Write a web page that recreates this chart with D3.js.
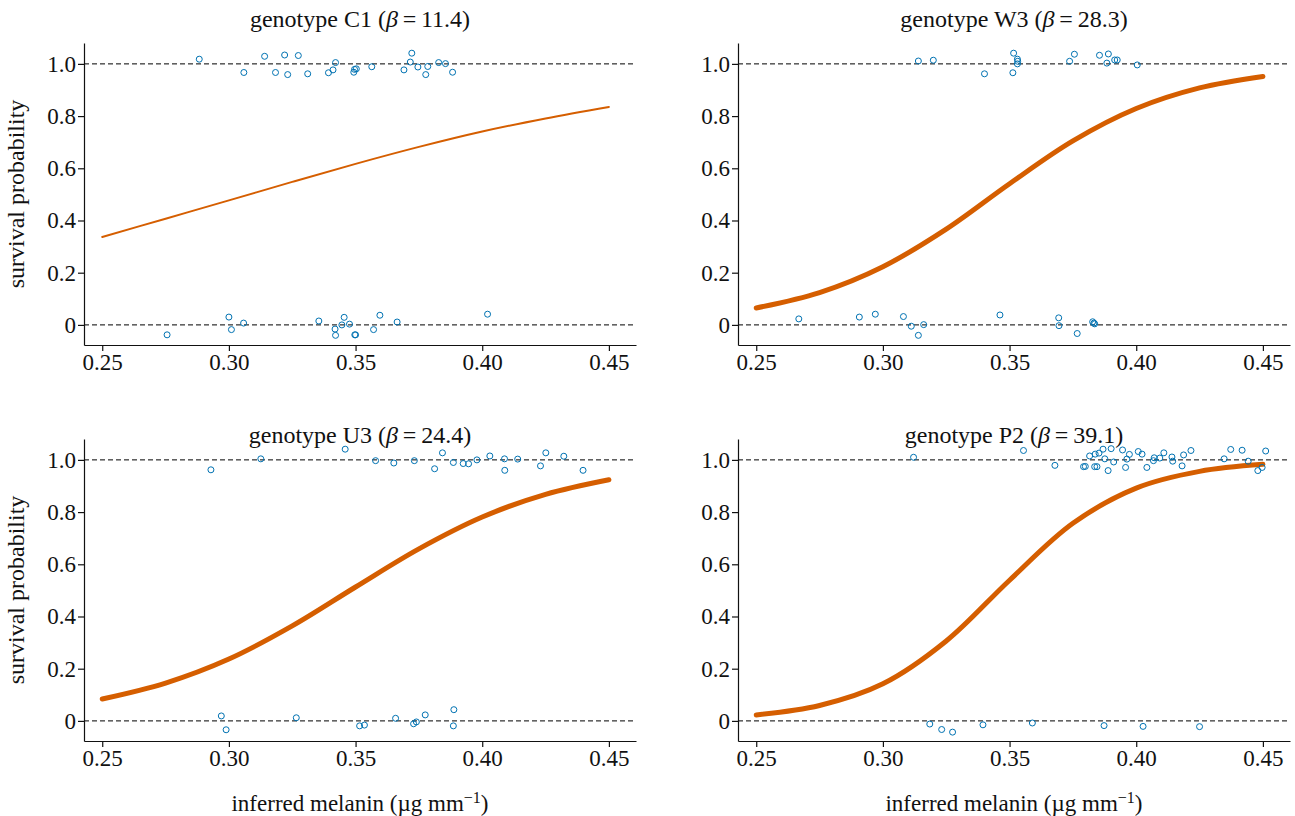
<!DOCTYPE html>
<html lang="en">
<head>
    <meta charset="UTF-8" />
    <title>Survival probability vs inferred melanin</title>
    <script src="https://d3js.org/d3.v7.min.js"></script>
    <style>
        body { margin: 0; background: #fff; }
        text { font-family: "Liberation Serif", "Times New Roman", serif; }
    </style>
</head>
<body>
    <script>
        // panel titles
        var genotypes = ["C1", "W3", "U3", "P2"];
        var betas = ["11.4", "28.3", "24.4", "39.1"];

        // tick labels
        var xTicks = [0.25, 0.30, 0.35, 0.40, 0.45];
        var yTicks = [0, 0.2, 0.4, 0.6, 0.8, 1.0];

        // fitted curve at these melanin values
        var curveX = [0.25, 0.275, 0.30, 0.325, 0.35, 0.375, 0.40, 0.425, 0.45];
        var curveC1 = [0.337, 0.407, 0.477, 0.548, 0.617, 0.682, 0.741, 0.791, 0.835];
        var curveW3 = [0.065, 0.124, 0.223, 0.367, 0.541, 0.705, 0.829, 0.908, 0.952];
        var curveU3 = [0.084, 0.145, 0.237, 0.364, 0.513, 0.659, 0.781, 0.868, 0.924];
        var curveP2 = [0.023, 0.059, 0.142, 0.306, 0.539, 0.757, 0.892, 0.956, 0.983];

        // observed points (melanin, jittered survival)
        var pointsC1X = [0.2883, 0.3059, 0.3141, 0.3184, 0.3220, 0.3232, 0.3274, 0.3311, 0.3393, 0.3411,
            0.3421, 0.3493, 0.3496, 0.3503, 0.3564, 0.3691, 0.3716, 0.3722, 0.3746, 0.3777, 0.3785,
            0.3828, 0.3855, 0.3883,
            0.2756, 0.3000, 0.3010, 0.3058, 0.3355, 0.3419, 0.3421, 0.3446, 0.3455, 0.3476, 0.3497,
            0.3500, 0.3571, 0.3596, 0.3664, 0.4021];
        var pointsC1Y = [1.018, 0.967, 1.029, 0.967, 1.034, 0.959, 1.032, 0.962, 0.966, 0.977,
            1.005, 0.968, 0.979, 0.981, 0.989, 0.977, 1.007, 1.041, 0.988, 0.959, 0.990,
            1.005, 1.001, 0.968,
            -0.038, 0.030, -0.018, 0.007, 0.015, -0.016, -0.040, 0.000, 0.029, 0.003, -0.038,
            -0.038, -0.018, 0.037, 0.011, 0.041];

        var pointsW3X = [0.3140, 0.3199, 0.3401, 0.3513, 0.3516, 0.3531, 0.3532, 0.3531, 0.3737, 0.3756,
            0.3855, 0.3890, 0.3884, 0.3915, 0.3925, 0.4004,
            0.2668, 0.2907, 0.2970, 0.3081, 0.3112, 0.3140, 0.3161, 0.3462, 0.3694, 0.3695,
            0.3767, 0.3828, 0.3833, 0.3836];
        var pointsW3Y = [1.011, 1.014, 0.962, 0.966, 1.041, 1.018, 1.010, 1.000, 1.010, 1.037,
            1.033, 1.038, 1.003, 1.015, 1.015, 0.996,
            0.023, 0.030, 0.041, 0.032, -0.005, -0.040, 0.001, 0.038, 0.027, -0.003,
            -0.033, 0.012, 0.007, 0.004];

        var pointsU3X = [0.2929, 0.3126, 0.3459, 0.3579, 0.3651, 0.3732, 0.3812, 0.3843, 0.3886, 0.3925,
            0.3946, 0.3979, 0.4030, 0.4088, 0.4089, 0.4140, 0.4230, 0.4251, 0.4322, 0.4398,
            0.2970, 0.2989, 0.3266, 0.3516, 0.3535, 0.3658, 0.3729, 0.3740, 0.3775, 0.3888, 0.3886];
        var pointsU3Y = [0.962, 1.004, 1.041, 0.997, 0.988, 0.997, 0.966, 1.027, 0.990, 0.986,
            0.985, 1.000, 1.015, 1.004, 0.960, 1.003, 0.977, 1.027, 1.014, 0.960,
            0.019, -0.034, 0.012, -0.019, -0.016, 0.010, -0.011, -0.004, 0.023, 0.043, -0.019];

        var pointsP2X = [0.3121, 0.3555, 0.3679, 0.3792, 0.3799, 0.3816, 0.3836, 0.3845, 0.3838, 0.3853,
            0.3869, 0.3876, 0.3889, 0.3901, 0.3911, 0.3946, 0.3958, 0.3963, 0.3973, 0.4008,
            0.4023, 0.4042, 0.4068, 0.4071, 0.4093, 0.4109, 0.4141, 0.4144, 0.4181, 0.4187,
            0.4216, 0.4347, 0.4373, 0.4418, 0.4442, 0.4480, 0.4497, 0.4511,
            0.3185, 0.3232, 0.3275, 0.3395, 0.3590, 0.3873, 0.4027, 0.4250];
        var pointsP2Y = [1.010, 1.036, 0.979, 0.974, 0.975, 1.015, 0.974, 0.974, 1.022, 1.026,
            1.041, 1.004, 0.959, 1.043, 0.992, 1.038, 0.971, 1.003, 1.021, 1.032,
            1.022, 0.971, 0.997, 1.008, 1.007, 1.027, 1.011, 0.995, 0.977, 1.019,
            1.036, 1.004, 1.040, 1.037, 0.995, 0.959, 0.971, 1.034,
            -0.012, -0.033, -0.043, -0.015, -0.008, -0.018, -0.021, -0.022];

        var w = 1295;
        var h = 816;
        var pw = 552;   // plot width
        var ph = 302;   // plot height
        var orange = "#d55e00";
        var blue = "#0072b2";
        var serif = "'Liberation Serif', 'Times New Roman', serif";

        var svg = d3.select("body")
            .append("svg")
            .attr("width", w)
            .attr("height", h);

        var xScale = d3.scaleLinear().domain([0.2428, 0.4607]).range([0, pw]);
        var yScale = d3.scaleLinear().domain([-0.077, 1.08]).range([ph, 0]);

        var panels = [
            { left: 84, top: 43, cy: curveC1, px: pointsC1X, py: pointsC1Y, lw: 2, yLab: true, xLab: false },
            { left: 738, top: 43, cy: curveW3, px: pointsW3X, py: pointsW3Y, lw: 5, yLab: false, xLab: false },
            { left: 84, top: 439, cy: curveU3, px: pointsU3X, py: pointsU3Y, lw: 5, yLab: true, xLab: true },
            { left: 738, top: 439, cy: curveP2, px: pointsP2X, py: pointsP2Y, lw: 5, yLab: false, xLab: true }
        ];

        function drawPanel(p, i) {
            var g = svg.append("g")
                .attr("transform", "translate(" + p.left + "," + p.top + ")");

            // dashed reference lines at 0 and 1
            g.selectAll("line.ref")
                .data([0, 1])
                .enter()
                .append("line")
                .attr("class", "ref")
                .attr("x1", 0)
                .attr("x2", pw)
                .attr("y1", function (d) { return yScale(d); })
                .attr("y2", function (d) { return yScale(d); })
                .attr("stroke", "#000")
                .attr("stroke-width", 1)
                .attr("stroke-dasharray", "5,3");

            var xAxis = d3.axisBottom(xScale).tickValues(xTicks).tickSize(6).tickSizeOuter(0)
                .tickFormat(d3.format(".2f"));
            var yAxis = d3.axisLeft(yScale).tickValues(yTicks).tickSize(6).tickSizeOuter(0)
                .tickFormat(function (d) { return d === 0 ? "0" : d3.format(".1f")(d); });

            var gx = g.append("g")
                .attr("transform", "translate(0," + ph + ")")
                .call(xAxis);
            var gy = g.append("g").call(yAxis);

            [gx, gy].forEach(function (a) {
                a.attr("font-family", serif).attr("font-size", 23);
                a.select(".domain").attr("stroke", "#111").attr("stroke-width", 1.2);
                a.selectAll(".tick line").attr("stroke", "#111").attr("stroke-width", 1.2);
                a.selectAll("text").attr("fill", "#111");
            });
            gy.selectAll("text").attr("x", -8);

            // fitted curve
            var line = d3.line()
                .x(function (d, j) { return xScale(curveX[j]); })
                .y(function (d) { return yScale(d); })
                .curve(d3.curveCatmullRom);

            g.append("path")
                .datum(p.cy)
                .attr("d", line)
                .attr("fill", "none")
                .attr("stroke", orange)
                .attr("stroke-width", p.lw)
                .attr("stroke-linecap", "round");

            // observations
            g.selectAll("circle")
                .data(p.px)
                .enter()
                .append("circle")
                .attr("cx", function (d) { return xScale(d); })
                .attr("cy", function (d, j) { return yScale(p.py[j]); })
                .attr("r", 3)
                .attr("fill", "none")
                .attr("stroke", blue)
                .attr("stroke-width", 1);

            // title
            var t = g.append("text")
                .attr("x", pw / 2)
                .attr("y", i < 2 ? -16 : 4)
                .attr("text-anchor", "middle")
                .attr("font-size", "24px")
                .attr("fill", "#111");
            t.append("tspan").text("genotype " + genotypes[i] + " (");
            t.append("tspan").attr("font-style", "italic").text("\u03b2");
            t.append("tspan").text("\u2009=\u2009" + betas[i] + ")");

            if (p.yLab) {
                g.append("text")
                    .attr("transform", "translate(-60," + (ph / 2) + ") rotate(-90)")
                    .attr("text-anchor", "middle")
                    .attr("font-size", "24px")
                    .attr("fill", "#111")
                    .text("survival probability");
            }

            if (p.xLab) {
                var xl = g.append("text")
                    .attr("x", pw / 2)
                    .attr("y", ph + 70)
                    .attr("text-anchor", "middle")
                    .attr("font-size", "23px")
                    .attr("fill", "#111");
                xl.append("tspan").text("inferred melanin (\u00b5g mm");
                xl.append("tspan").attr("dy", -8).attr("font-size", "16px").text("\u22121");
                xl.append("tspan").attr("dy", 8).text(")");
            }
        }

        panels.forEach(drawPanel);
    </script>
</body>
</html>
